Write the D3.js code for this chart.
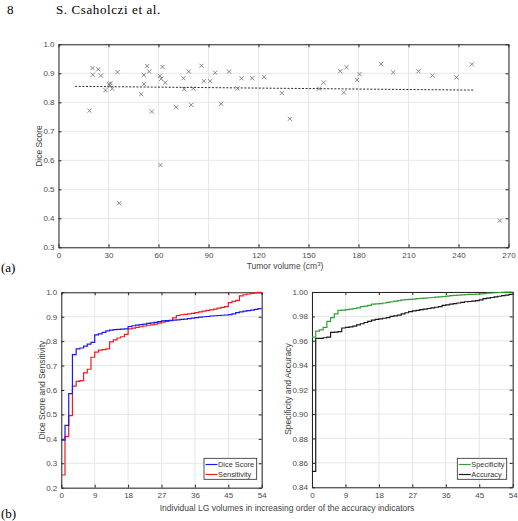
<!DOCTYPE html>
<html>
<head>
<meta charset="utf-8">
<script src="https://cdn.jsdelivr.net/npm/d3@7"></script>
<style>
body{margin:0;background:#fff;}
svg{display:block;font-family:"Liberation Sans",Arial,sans-serif;}
</style>
</head>
<body>
<script>
//(a) tumor volume (cm3) and dice score of every LG
var volume=[18.6,20.4,20.6,23.8,25.4,28.2,30.4,31.2,30.8,32.2,35.4,36.4,49.6,51.2,51.4,53.2,54.4,56.0,60.8,61.6,62.4,64.0,61.2,70.6,75.0,75.4,78.2,79.6,80.8,85.8,87.2,91.0,94.0,97.6,102.4,107.4,109.8,116.2,123.4,134.0,138.8,156.4,159.0,169.0,171.2,172.8,179.2,180.6,193.6,200.8,216.0,224.4,238.8,248.0,264.8];
var dice=[0.771,0.918,0.895,0.914,0.892,0.842,0.862,0.866,0.857,0.847,0.904,0.452,0.828,0.894,0.863,0.925,0.906,0.768,0.891,0.881,0.922,0.868,0.584,0.783,0.883,0.845,0.906,0.791,0.848,0.926,0.873,0.873,0.902,0.795,0.906,0.848,0.883,0.883,0.887,0.832,0.743,0.847,0.868,0.907,0.834,0.921,0.877,0.897,0.932,0.903,0.907,0.892,0.886,0.931,0.392];
//dashed trend line end points
var trendX=[10,249];
var trendY=[0.855,0.842];

//(b) indicators sorted in increasing order
var diceSorted=[0.395,0.455,0.585,0.745,0.768,0.772,0.780,0.788,0.795,0.826,0.830,0.836,0.842,0.845,0.847,0.848,0.849,0.850,0.860,0.863,0.866,0.868,0.870,0.873,0.875,0.877,0.880,0.883,0.884,0.885,0.886,0.887,0.889,0.890,0.892,0.894,0.896,0.898,0.900,0.901,0.903,0.904,0.905,0.906,0.907,0.909,0.912,0.917,0.920,0.923,0.925,0.927,0.930,0.933];
var sensitivity=[0.252,0.409,0.495,0.616,0.635,0.638,0.670,0.685,0.734,0.755,0.763,0.765,0.768,0.797,0.805,0.813,0.818,0.828,0.850,0.853,0.856,0.859,0.862,0.865,0.867,0.870,0.874,0.878,0.881,0.884,0.895,0.905,0.908,0.910,0.912,0.914,0.917,0.920,0.923,0.926,0.928,0.931,0.935,0.938,0.941,0.958,0.963,0.967,0.985,0.990,0.993,0.996,0.998,1.000];
var specificity=[0.963,0.968,0.969,0.971,0.976,0.979,0.982,0.985,0.9852,0.9855,0.986,0.9865,0.987,0.988,0.9885,0.989,0.990,0.9902,0.9905,0.991,0.9915,0.992,0.9925,0.993,0.9935,0.9938,0.994,0.9942,0.9945,0.9948,0.995,0.9953,0.9955,0.9958,0.996,0.9963,0.9966,0.997,0.9973,0.9975,0.9977,0.9978,0.998,0.998,0.9982,0.9985,0.9987,0.999,0.9992,0.9994,0.9996,0.9998,0.9999,1.000];
var accuracy=[0.853,0.962,0.962,0.9625,0.963,0.967,0.9672,0.9675,0.9705,0.971,0.9715,0.972,0.973,0.974,0.975,0.976,0.977,0.9775,0.978,0.9785,0.979,0.980,0.9805,0.981,0.982,0.983,0.984,0.9845,0.985,0.9855,0.986,0.9865,0.987,0.9875,0.988,0.989,0.9895,0.990,0.9905,0.991,0.9915,0.992,0.9922,0.9925,0.993,0.9935,0.9945,0.995,0.9955,0.996,0.9965,0.997,0.9975,0.998];

//tick values
var ticksAx=[0,30,60,90,120,150,180,210,240,270];
var ticksAy=[0.3,0.4,0.5,0.6,0.7,0.8,0.9,1.0];
var ticksBx=[0,9,18,27,36,45,54];
var ticksBy1=[0.2,0.3,0.4,0.5,0.6,0.7,0.8,0.9,1.0];
var ticksBy2=[0.84,0.86,0.88,0.90,0.92,0.94,0.96,0.98,1.00];

var axisColor="#262626";
var serif="'Liberation Serif','DejaVu Serif',serif";

var svg=d3.select("body").append("svg")
  .attr("width",518)
  .attr("height",521);

//page header and panel letters
svg.append("text").attr("x",7).attr("y",13.5)
  .style("font-family",serif).style("font-size","13px").text("8");
svg.append("text").attr("x",56).attr("y",13.5)
  .style("font-family",serif).style("font-size","13px").style("letter-spacing","0.6px").text("S. Csaholczi et al.");
svg.append("text").attr("x",1).attr("y",272)
  .style("font-family",serif).style("font-size","13px").text("(a)");
svg.append("text").attr("x",1).attr("y",518)
  .style("font-family",serif).style("font-size","13px").text("(b)");

//draws grid, box and the four axes of one panel
function drawFrame(x,y,xt,yt,xfmt,yfmt){
  var g=svg.append("g");
  var x0=x.range()[0],x1=x.range()[1],y0=y.range()[0],y1=y.range()[1];

  g.selectAll(".gx").data(xt).enter().append("line")
    .attr("x1",function(d){return x(d);}).attr("x2",function(d){return x(d);})
    .attr("y1",y0).attr("y2",y1)
    .style("stroke","#e1e1e1").style("stroke-width",0.8);
  g.selectAll(".gy").data(yt).enter().append("line")
    .attr("y1",function(d){return y(d);}).attr("y2",function(d){return y(d);})
    .attr("x1",x0).attr("x2",x1)
    .style("stroke","#e1e1e1").style("stroke-width",0.8);

  var bottom=g.append("g").attr("transform","translate(0,"+y0+")")
    .call(d3.axisBottom(x).tickValues(xt).tickFormat(xfmt).tickSizeInner(-3).tickSizeOuter(0).tickPadding(5));
  var left=g.append("g").attr("transform","translate("+x0+",0)")
    .call(d3.axisLeft(y).tickValues(yt).tickFormat(yfmt).tickSizeInner(-3).tickSizeOuter(0).tickPadding(4));
  var top=g.append("g").attr("transform","translate(0,"+y1+")")
    .call(d3.axisTop(x).tickValues(xt).tickFormat("").tickSizeInner(-3).tickSizeOuter(0));
  var right=g.append("g").attr("transform","translate("+x1+",0)")
    .call(d3.axisRight(y).tickValues(yt).tickFormat("").tickSizeInner(-3).tickSizeOuter(0));

  [bottom,left,top,right].forEach(function(a){
    a.select(".domain").style("stroke",axisColor).style("stroke-width",1);
    a.selectAll(".tick line").style("stroke",axisColor);
    a.selectAll(".tick text").style("fill","#4a4a4a").style("font-size","8px").style("font-family","'Liberation Sans',Arial,sans-serif");
  });
  return g;
}

//rotated y label
function yLabel(x,y,txt){
  svg.append("text")
    .attr("text-anchor","middle")
    .attr("transform","translate("+x+","+y+")rotate(-90)")
    .style("font-size","8.5px").style("fill","#444")
    .text(txt);
}

// ---------------- panel (a) ----------------
var xA=d3.scaleLinear().domain([0,270]).range([58.5,508.5]);
var yA=d3.scaleLinear().domain([0.3,1]).range([247.3,44.3]);

drawFrame(xA,yA,ticksAx,ticksAy,d3.format("d"),d3.format(".1f"));

//trend line
svg.append("line")
  .attr("x1",xA(trendX[0])).attr("y1",yA(trendY[0]))
  .attr("x2",xA(trendX[1])).attr("y2",yA(trendY[1]))
  .style("stroke","#111").style("stroke-width",0.9).style("stroke-dasharray","2,1.6");

//cross markers
svg.append("g").selectAll("path")
  .data(volume)
  .enter().append("path")
  .attr("d",function(d,i){
    var cx=xA(d),cy=yA(dice[i]),s=2.1;
    return "M"+(cx-s)+","+(cy-s)+"L"+(cx+s)+","+(cy+s)+"M"+(cx-s)+","+(cy+s)+"L"+(cx+s)+","+(cy-s);
  })
  .style("stroke","#7a7a7a").style("stroke-width",0.9).style("fill","none");

yLabel(42,146,"Dice Score");

var xlab=svg.append("text").attr("x",285).attr("y",269).attr("text-anchor","middle")
  .style("font-size","8.5px").style("fill","#444");
xlab.append("tspan").text("Tumor volume (cm");
xlab.append("tspan").attr("dy",-3.5).style("font-size","6px").text("3");
xlab.append("tspan").attr("dy",3.5).text(")");

// ---------------- panel (b) ----------------
var xL=d3.scaleLinear().domain([0,54]).range([61.3,261.7]);
var yL=d3.scaleLinear().domain([0.2,1]).range([487.7,292.3]);
var xR=d3.scaleLinear().domain([0,54]).range([312,512.7]);
var yR=d3.scaleLinear().domain([0.84,1]).range([487.3,292]);

drawFrame(xL,yL,ticksBx,ticksBy1,d3.format("d"),d3.format(".1f"));
drawFrame(xR,yR,ticksBx,ticksBy2,d3.format("d"),d3.format(".2f"));

//stairs line, last value held until x=54
function stairs(vals,x,y,color){
  var pts=vals.map(function(v,i){return [i,v];});
  pts.push([vals.length,vals[vals.length-1]]);
  var line=d3.line()
    .x(function(d){return x(d[0]);})
    .y(function(d){return y(d[1]);})
    .curve(d3.curveStepAfter);
  svg.append("path")
    .attr("d",line(pts))
    .style("fill","none")
    .style("stroke",color)
    .style("stroke-width",1.2);
}

stairs(sensitivity,xL,yL,"#ee1c1c");
stairs(diceSorted,xL,yL,"#1a1aee");
stairs(accuracy,xR,yR,"#1a1a1a");
stairs(specificity,xR,yR,"#33a033");

yLabel(44.5,390,"Dice Score and Sensitivity");
yLabel(291,389,"Specificity and Accuracy");

svg.append("text").attr("x",287).attr("y",511).attr("text-anchor","middle")
  .style("font-size","8.5px").style("fill","#444")
  .text("Individual LG volumes in increasing order of the accuracy indicators");

//legends
function legend(x0,x1,names,colors){
  var lg=svg.append("g");
  lg.append("rect").attr("x",x0).attr("y",458.3).attr("width",x1-x0).attr("height",21)
    .style("fill","#fff").style("stroke",axisColor).style("stroke-width",0.8);
  names.forEach(function(n,i){
    lg.append("line").attr("x1",x0+1.5).attr("x2",x0+13.5)
      .attr("y1",464.5+i*10).attr("y2",464.5+i*10)
      .style("stroke",colors[i]).style("stroke-width",1.2);
    lg.append("text").attr("x",x0+14).attr("y",467.2+i*10)
      .style("font-size","7.4px").style("fill","#333").text(n);
  });
}
legend(204,256.7,["Dice Score","Sensitivity"],["#1a1aee","#ee1c1c"]);
legend(457.3,506.7,["Specificity","Accuracy"],["#33a033","#1a1a1a"]);
</script>
</body>
</html>
